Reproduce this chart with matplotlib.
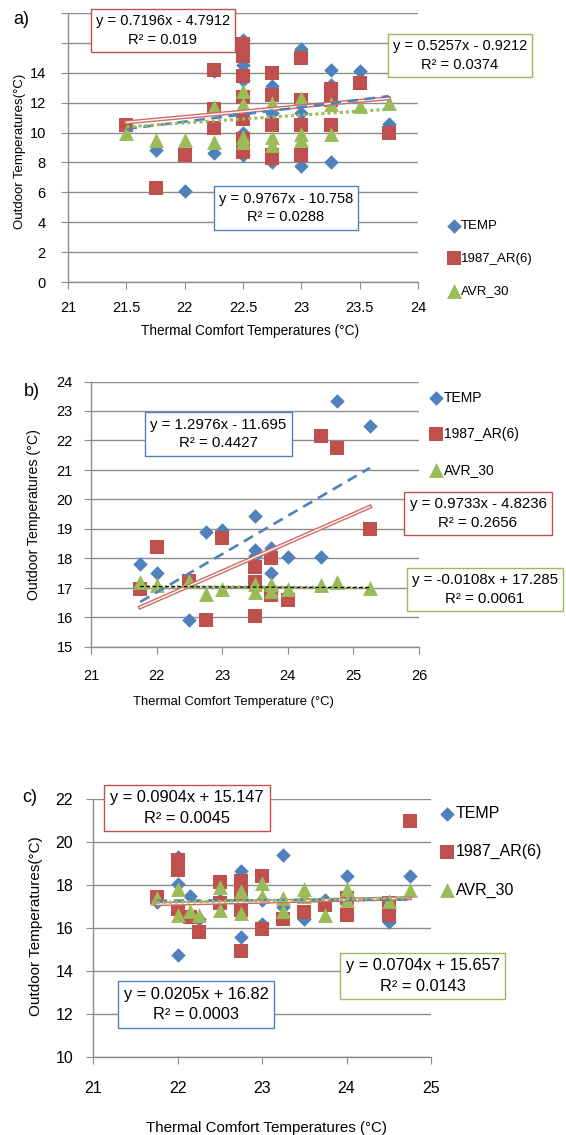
import matplotlib
matplotlib.use('Agg')
import matplotlib.pyplot as plt
import numpy as np

plt.rcParams['font.family'] = ['Liberation Sans', 'DejaVu Sans']

W, H = 566, 1135

# ---------------- data ----------------
series_names = ['TEMP', '1987_AR(6)', 'AVR_30']

# panel a
a_temp_x = [21.5, 21.75, 22, 22.25, 22.25, 22.5, 22.5, 22.5, 22.5, 22.5, 22.75, 22.75, 22.75,
            23, 23, 23, 23.25, 23.25, 23.25, 23.5, 23.75]
a_temp_y = [10.3, 8.8, 6.1, 8.6, 14.1, 16.2, 14.5, 13.5, 10.0, 8.5, 13.1, 11.3, 8.0,
            15.6, 11.3, 7.75, 14.2, 13.2, 8.0, 14.1, 10.55]
a_ar_x = [21.5, 21.75, 22, 22.25, 22.25, 22.25, 22.5, 22.5, 22.5, 22.5, 22.5, 22.5, 22.5, 22.5,
          22.75, 22.75, 22.75, 22.75, 22.75, 23, 23, 23, 23, 23.25, 23.25, 23.25, 23.5, 23.75]
a_ar_y = [10.5, 6.3, 8.5, 14.2, 11.6, 10.3, 15.9, 15.5, 15.1, 13.8, 12.4, 10.9, 9.6, 8.7,
          14.0, 12.5, 10.5, 8.5, 8.3, 15.0, 12.2, 10.5, 8.5, 12.9, 12.2, 10.5, 13.3, 10.0]
a_avr_x = [21.5, 21.75, 22, 22.25, 22.25, 22.5, 22.5, 22.5, 22.5, 22.75, 22.75, 22.75,
           23, 23, 23, 23.25, 23.25, 23.5, 23.75]
a_avr_y = [10.0, 9.5, 9.5, 11.7, 9.4, 12.8, 11.9, 9.7, 9.4, 12.0, 9.7, 9.2,
           12.3, 9.9, 9.5, 11.9, 9.9, 11.8, 12.0]
# trend lines: slope, intercept, R²  (TEMP, AR, AVR)
a_fit = [(0.9767, -10.758, 0.0288), (0.7196, -4.7912, 0.019), (0.5257, -0.9212, 0.0374)]

# panel b
b_temp_x = [21.75, 22, 22.5, 22.75, 23, 23.5, 23.5, 23.5, 23.75, 23.75, 24, 24.5, 24.75, 25.25]
b_temp_y = [17.8, 17.5, 15.9, 18.9, 18.95, 19.45, 18.3, 18.1, 18.35, 17.5, 18.05, 18.05, 23.35, 22.5]
b_ar_x = [21.75, 22, 22.5, 22.75, 23, 23.5, 23.5, 23.5, 23.75, 23.75, 24, 24.5, 24.75, 25.25]
b_ar_y = [16.95, 18.4, 17.25, 15.9, 18.7, 17.7, 17.2, 16.05, 18.0, 16.75, 16.6, 22.15, 21.75, 19.0]
b_avr_x = [21.75, 22, 22.5, 22.75, 23, 23.5, 23.5, 23.75, 23.75, 24, 24.5, 24.75, 25.25]
b_avr_y = [17.2, 17.1, 17.25, 16.8, 16.95, 17.15, 16.85, 17.15, 16.9, 16.95, 17.1, 17.2, 17.0]
b_fit = [(1.2976, -11.695, 0.4427), (0.9733, -4.8236, 0.2656), (-0.0108, 17.285, 0.0061)]

# panel c
c_temp_x = [21.75, 22, 22, 22, 22.15, 22.25, 22.5, 22.75, 22.75, 23, 23, 23.25, 23.25,
            23.5, 23.75, 24, 24.5, 24.75]
c_temp_y = [17.2, 14.75, 18.05, 19.3, 17.5, 16.4, 17.3, 18.65, 15.6, 16.2, 17.3, 19.4, 17.0,
            16.4, 17.3, 18.4, 16.3, 18.4]
c_ar_x = [21.75, 22, 22, 22, 22.15, 22.25, 22.5, 22.5, 22.75, 22.75, 22.75, 22.75, 23, 23,
          23.25, 23.5, 23.75, 24, 24, 24.5, 24.5, 24.75]
c_ar_y = [17.45, 19.15, 18.7, 16.9, 16.5, 15.8, 18.15, 17.15, 18.2, 17.6, 16.85, 14.95, 18.4, 15.95,
          16.4, 16.75, 17.05, 17.4, 16.6, 17.15, 16.6, 21.0]
c_avr_x = [21.75, 22, 22, 22.15, 22.25, 22.5, 22.5, 22.75, 22.75, 23, 23, 23.25, 23.25,
           23.5, 23.5, 23.75, 24, 24, 24.5, 24.75]
c_avr_y = [17.4, 17.8, 16.6, 16.8, 16.6, 17.9, 16.85, 17.7, 16.7, 18.1, 17.5, 17.4, 16.8,
           17.8, 17.5, 16.6, 17.8, 17.3, 17.25, 17.75]
c_fit = [(0.0205, 16.82, 0.0003), (0.0904, 15.147, 0.0045), (0.0704, 15.657, 0.0143)]

colors = ['#4F81BD', '#C0504D', '#9BBB59']
markers = ['D', 's', '^']
msizes = [55, 100, 115]
grid_c = '#8C8C8C'


def fx(x):
    return x / W


def fy(y):
    return 1 - y / H


def eq_text(fit):
    m, b, r2 = fit
    sign = '-' if b < 0 else '+'
    return 'y = %gx %s %g\nR² = %g' % (m, sign, abs(b), r2)


def panel(rect, xs, fits, xlim, xticks, ylim, yticks, yhide,
          boxes, leg, leg_sp, letter, ylab, xlab, xpad, ypad, fs, green_black=False):
    # fs = (tick, equation, legend, ylabel, xlabel)
    l, t, r, b = rect
    ax = fig.add_axes([fx(l), fy(b), fx(r - l), (b - t) / H])
    for i in range(3):
        ax.scatter(xs[i][0], xs[i][1], marker=markers[i], s=msizes[i], color=colors[i],
                   linewidths=0, zorder=3 + i, label=series_names[i])
    # trend lines over the data range
    for i in range(3):
        m, c0, _ = fits[i]
        x0, x1 = min(xs[i][0]), max(xs[i][0])
        xx = np.array([x0, x1])
        yy = m * xx + c0
        if i == 0:
            ax.plot(xx, yy, color=colors[0], lw=1.9, ls=(0, (4, 2.5)), zorder=8)
        elif i == 1:
            ax.plot(xx, yy, color='#D06A65', lw=3.0, zorder=7)
            ax.plot(xx, yy, color='white', lw=1.0, zorder=7.5)
        else:
            ax.plot(xx, yy, color=colors[2], lw=2.2, ls=(0, (1, 1)), zorder=9)
            if green_black:
                ax.plot(xx, yy, color='black', lw=0.9, ls=(0, (3, 2)), zorder=9.5)
    ax.set_xlim(xlim)
    ax.set_ylim(ylim)
    ax.set_xticks(xticks)
    ax.set_xticklabels(['%g' % v for v in xticks])
    ax.set_yticks(yticks)
    ax.set_yticklabels(['' if v in yhide else '%g' % v for v in yticks])
    ax.yaxis.grid(True, color=grid_c, lw=1.0)
    ax.set_axisbelow(True)
    for s in ['top', 'right']:
        ax.spines[s].set_visible(False)
    for s in ['left', 'bottom']:
        ax.spines[s].set_color(grid_c)
        ax.spines[s].set_linewidth(1.0)
    ax.tick_params(axis='x', direction='out', length=5, color=grid_c, labelsize=fs[0], pad=xpad)
    ax.tick_params(axis='y', direction='out', length=5, color=grid_c, labelsize=fs[0], pad=ypad)
    # equation boxes
    for i in range(3):
        cx, cy = boxes[i]
        fig.text(fx(cx), fy(cy), eq_text(fits[i]), ha='center', va='center', fontsize=fs[1],
                 linespacing=1.45, zorder=20,
                 bbox=dict(boxstyle='square,pad=0.35', fc='white', ec=colors[i], lw=1.0))
    # legend
    lx, ly = leg
    ax.legend(loc='upper left', bbox_to_anchor=(fx(lx), fy(ly)), bbox_transform=fig.transFigure,
              frameon=False, fontsize=fs[2], handlelength=0.9, handletextpad=0.1,
              borderpad=0, borderaxespad=0, labelspacing=leg_sp, scatterpoints=1)
    fig.text(fx(letter[0]), fy(letter[1]), letter[2], fontsize=13, ha='left', va='center')
    fig.text(fx(ylab[0]), fy(ylab[1]), ylab[2], fontsize=fs[3], rotation=90,
             ha='center', va='center')
    fig.text(fx(xlab[0]), fy(xlab[1]), xlab[2], fontsize=fs[4], ha='center', va='center')
    return ax


fig = plt.figure(figsize=(W / 100, H / 100), dpi=100)

panel((68, 13, 418, 282),
      [(a_temp_x, a_temp_y), (a_ar_x, a_ar_y), (a_avr_x, a_avr_y)], a_fit,
      (21, 24), [21, 21.5, 22, 22.5, 23, 23.5, 24], (0, 18), list(range(0, 19, 2)), [16, 18],
      [(286, 208), (163, 30.5), (460, 55.5)], (448, 220), 1.54,
      (13, 20, 'a)'), (20, 151, 'Outdoor Temperatures(°C)'),
      (250, 331, 'Thermal Comfort Temperatures (°C)'), 9, 11, (10.5, 10.5, 9.5, 9.5, 9.8))

panel((91, 381.5, 419, 647),
      [(b_temp_x, b_temp_y), (b_ar_x, b_ar_y), (b_avr_x, b_avr_y)], b_fit,
      (21, 26), list(range(21, 27)), (15, 24), list(range(15, 25)), [],
      [(218.5, 434), (478, 513.5), (485, 589.5)], (430, 391), 1.58,
      (24, 391, 'b)'), (34, 515, 'Outdoor Temperatures (°C)'),
      (233, 702, 'Thermal Comfort Temperature (°C)'), 11, 8, (10.5, 10.8, 10, 10.2, 9.4),
      green_black=True)

panel((93.3, 799, 431, 1057),
      [(c_temp_x, c_temp_y), (c_ar_x, c_ar_y), (c_avr_x, c_avr_y)], c_fit,
      (21, 25), list(range(21, 26)), (10, 22), list(range(10, 23, 2)), [],
      [(196, 1004.5), (187, 808), (422.5, 976)], (440, 806), 1.45,
      (22, 797, 'c)'), (36, 926, 'Outdoor Temperatures(°C)'),
      (267, 1128, 'Thermal Comfort Temperatures (°C)'), 12, 9.5, (11.5, 11.8, 11.5, 11, 10.9))

fig.savefig('out.png', dpi=100)
